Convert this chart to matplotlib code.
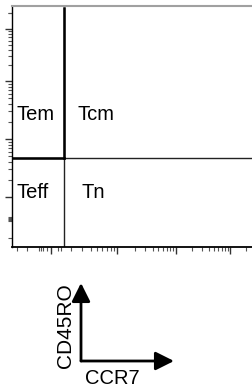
import numpy as np
import matplotlib
matplotlib.use('Agg')
import matplotlib.pyplot as plt
from matplotlib.patches import FancyArrowPatch

plt.rcParams['font.family'] = ['Liberation Sans', 'DejaVu Sans']

# gate positions (axis channels, 0-241)
ccr7_gate = 52
cd45ro_gate = 89
x_max = 241
y_max = 241

# quadrant labels
quad_names = ['Tem', 'Tcm', 'Teff', 'Tn']
quad_x = [24, 84, 21, 81]
quad_y = [132, 132, 55, 55]

# tick decades (channels) and extra ticks in the linear region
x_decades = [39, 105, 164, 218]
x_extra = [5, 15, 27, 29, 31, 35, 46, 49]
y_decades = [50, 108, 166, 218]
y_extra = [9, 26, 27, 28, 29, 30, 234]

x_label = 'CCR7'
y_label = 'CD45RO'


def log_minors(decades, lim):
    ticks = []
    step = decades[-1] - decades[-2]
    pts = list(decades) + [decades[-1] + step]
    for d0, d1 in zip(pts[:-1], pts[1:]):
        for k in range(2, 10):
            t = d0 + np.log10(k) * (d1 - d0)
            if t < lim:
                ticks.append(t)
    return ticks


fig = plt.figure(figsize=(2.53, 3.9), dpi=100)
ax = fig.add_axes([12 / 253, (390 - 247) / 390, 241 / 253, 241 / 390])
ax.set_xlim(0, x_max)
ax.set_ylim(0, y_max)

# quadrant gates
ax.plot([ccr7_gate, ccr7_gate], [0, y_max - 2], color='#222222', lw=1.0)
ax.plot([0, x_max - 2], [cd45ro_gate, cd45ro_gate], color='#222222', lw=1.0)
ax.plot([ccr7_gate, ccr7_gate], [cd45ro_gate, y_max - 2], color='black', lw=1.8)
ax.plot([0, ccr7_gate], [cd45ro_gate, cd45ro_gate], color='black', lw=1.8)

for name, qx, qy in zip(quad_names, quad_x, quad_y):
    ax.text(qx, qy, name, fontsize=14.5, ha='center', va='center')

# frame
ax.spines['right'].set_visible(False)
ax.spines['top'].set_color('#a0a0a0')
ax.spines['top'].set_linewidth(1.5)
ax.spines['left'].set_linewidth(1.0)
ax.spines['bottom'].set_linewidth(1.3)

ax.set_xticks(x_decades)
ax.set_xticks(log_minors(x_decades, x_max) + x_extra, minor=True)
ax.set_yticks(y_decades)
ax.set_yticks(log_minors(y_decades, y_max) + y_extra, minor=True)
ax.set_xticklabels([])
ax.set_yticklabels([])
ax.tick_params(which='major', length=5, width=1, color='#333333', direction='out')
ax.tick_params(which='minor', length=3, width=0.8, color='#555555', direction='out')

# axis key arrows
corner = (81 / 253, 1 - 361 / 390)
ax_up = (81 / 253, 1 - 283 / 390)
ax_right = (174 / 253, 1 - 361 / 390)
style = '-|>,head_length=0.8,head_width=0.4'
for tip in (ax_up, ax_right):
    fig.add_artist(FancyArrowPatch(corner, tip, transform=fig.transFigure,
                                   arrowstyle=style, color='black', lw=2,
                                   mutation_scale=14, shrinkA=0, shrinkB=0))
fig.text(65 / 253, 1 - 326 / 390, y_label, rotation=90, fontsize=15, ha='center', va='center')
fig.text(112 / 253, 1 - 378 / 390, x_label, fontsize=14.5, ha='center', va='center')

plt.savefig('out.png', dpi=100)
